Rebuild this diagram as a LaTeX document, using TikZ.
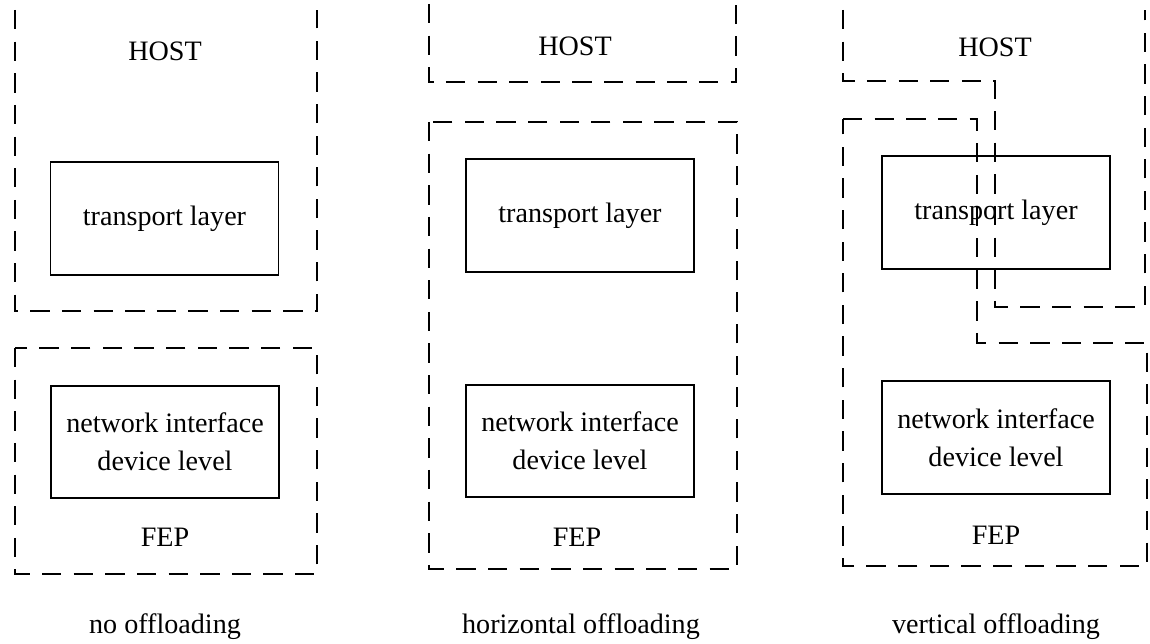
\documentclass[tikz,border=0pt]{standalone}
\usepackage{fontspec}
\setmainfont{Liberation Serif}
\usepackage{tikz}

\begin{document}
\begin{tikzpicture}[
    every node/.style={font=\fontsize{16}{21.5}\selectfont},
    layer/.style={draw, line width=1.1pt, align=center, minimum width=4.56cm, minimum height=2.25cm, inner sep=0pt},
    region/.style={line width=0.8pt, dash pattern=on 11pt off 7pt}
  ]
    \useasboundingbox (0,0) rectangle (23,12.88);

    % no offloading
    \draw[region] (0.30,12.68) -- (0.30,6.66) -- (6.34,6.66) -- (6.34,12.68);
    \draw[region] (0.30,5.92) rectangle (6.34,1.40);
    \node (host1) at (3.30,11.86) {HOST};
    \node (tl1) at (3.29,8.51) [layer] {transport layer};
    \node (ni1) at (3.30,4.04) [layer] {network interface\\device level};
    \node (fep1) at (3.30,2.14) {FEP};
    \node (lbl1) at (3.30,0.34) {no offloading};

    % horizontal offloading
    \draw[region] (8.58,12.80) -- (8.58,11.24) -- (14.72,11.24) -- (14.72,12.80);
    \draw[region] (8.58,10.44) rectangle (14.74,1.50);
    \node (host2) at (11.50,11.96) {HOST};
    \node (tl2) at (11.60,8.57) [layer] {transport layer};
    \node (ni2) at (11.60,4.06) [layer] {network interface\\device level};
    \node (fep2) at (11.54,2.14) {FEP};
    \node (lbl2) at (11.62,0.34) {horizontal offloading};

    % vertical offloading
    \draw[region] (16.86,12.68) -- (16.86,11.26) -- (19.90,11.26) -- (19.90,6.74) -- (22.90,6.74) -- (22.90,12.68);
    \draw[region] (16.86,10.50) -- (19.54,10.50) -- (19.54,6.02) -- (22.94,6.02) -- (22.94,1.56) -- (16.86,1.56) -- cycle;
    \node (host3) at (19.90,11.94) {HOST};
    \node (tl3) at (19.92,8.63) [layer] {transport layer};
    \node (ni3) at (19.92,4.13) [layer] {network interface\\device level};
    \node (fep3) at (19.92,2.18) {FEP};
    \node (lbl3) at (19.92,0.34) {vertical offloading};
\end{tikzpicture}
\end{document}
